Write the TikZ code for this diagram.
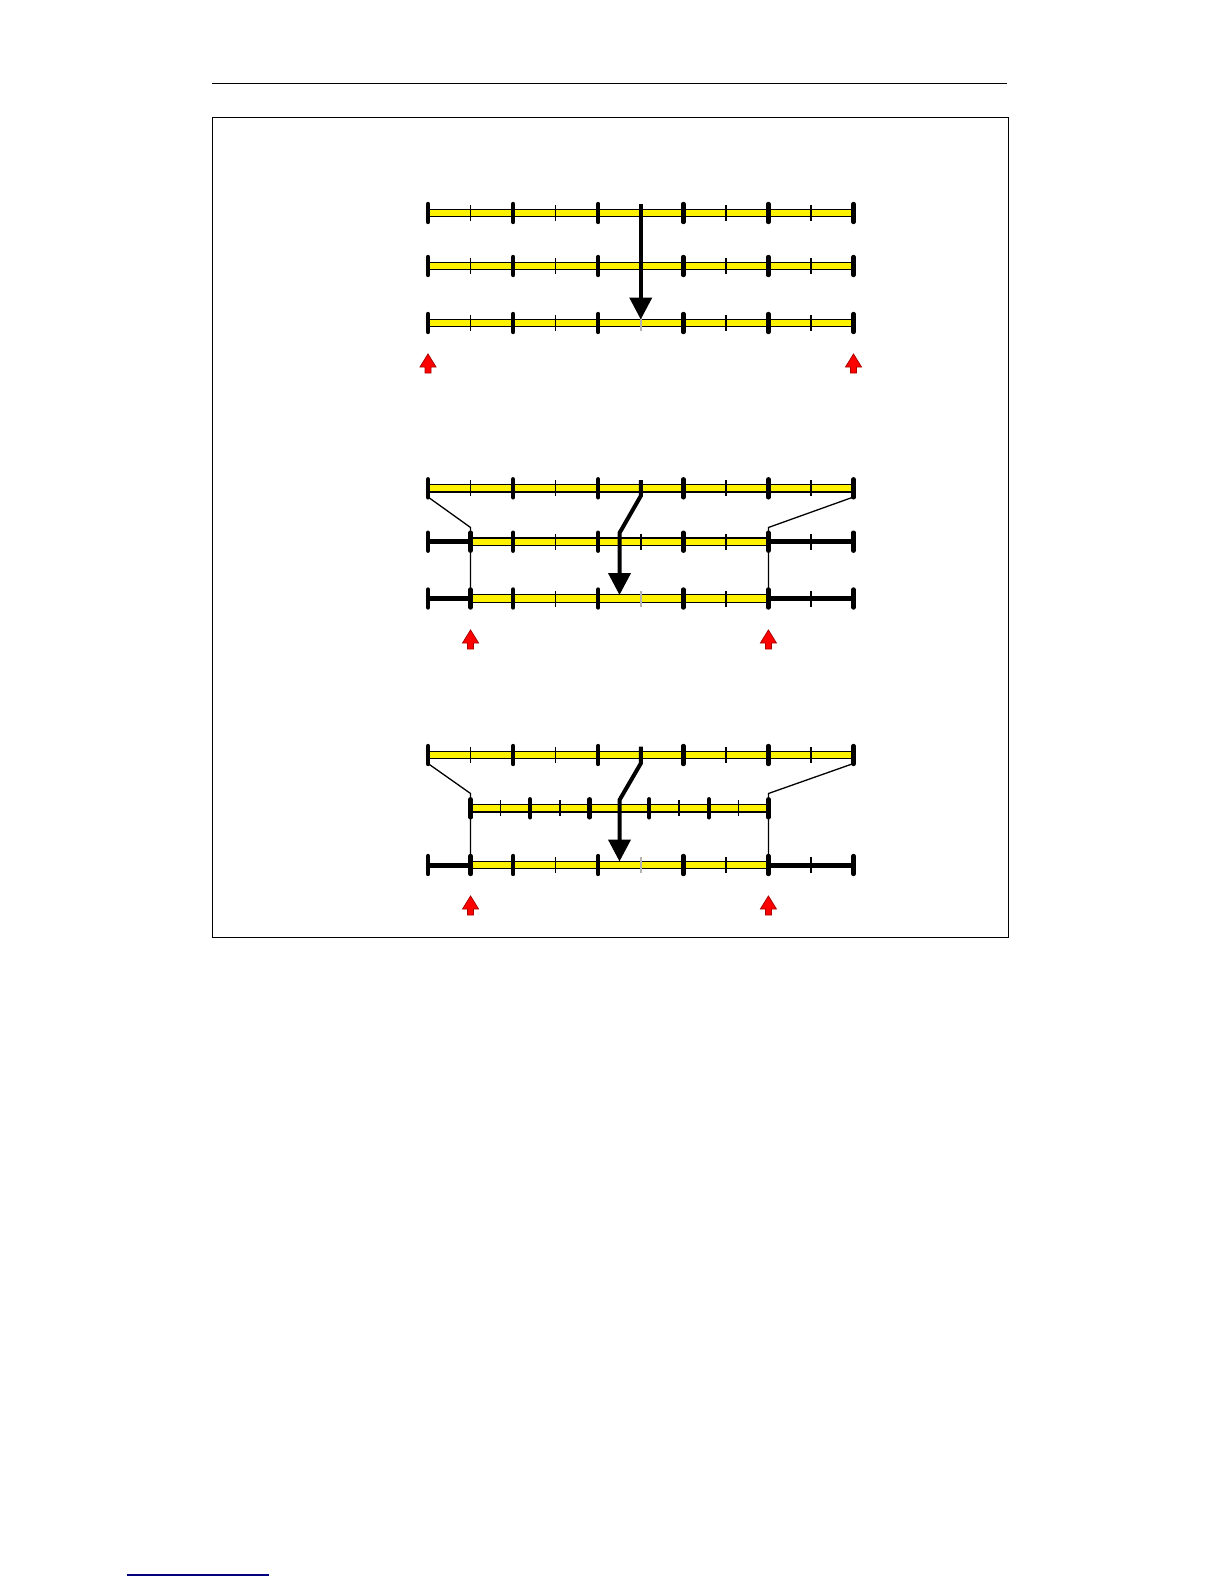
\documentclass[tikz,border=0pt]{standalone}
\usetikzlibrary{arrows.meta}
\definecolor{rulenavy}{RGB}{0,0,128}
\definecolor{arrowedge}{RGB}{170,0,0}
\newcommand\fullrow[2]{%
  \draw[ybar] (428,#1-3.7) rectangle (853.5,#1+3.7);
  \foreach \i in {0,...,5} \draw[major] (428+85.1*\i,#1-9) -- (428+85.1*\i,#1+9);
  \foreach \i in {0,1,3,4} \draw[minor] (470.55+85.1*\i,#1-8) -- (470.55+85.1*\i,#1+8);
  \draw[minor,draw=#2] (640.75,#1-8) -- (640.75,#1+8);
}
\newcommand\cutrow[2]{%
  \draw[kbar] (428,#1) -- (470.55,#1);
  \draw[kbar] (768.4,#1) -- (853.5,#1);
  \draw[ybar] (470.55,#1-3.7) rectangle (768.4,#1+3.7);
  \foreach \i in {0,...,5} \draw[major] (428+85.1*\i,#1-9) -- (428+85.1*\i,#1+9);
  \draw[major] (470.55,#1-9) -- (470.55,#1+9);
  \foreach \i in {1,3,4} \draw[minor] (470.55+85.1*\i,#1-8) -- (470.55+85.1*\i,#1+8);
  \draw[minor,draw=#2] (640.75,#1-8) -- (640.75,#1+8);
}
\newcommand\squeezerow[1]{%
  \draw[ybar] (470.55,#1-3.7) rectangle (768.4,#1+3.7);
  \foreach \i in {0,...,5} \draw[major] (470.55+59.57*\i,#1-9) -- (470.55+59.57*\i,#1+9);
  \foreach \i in {0,...,4} \draw[minor] (500.33+59.57*\i,#1-8) -- (500.33+59.57*\i,#1+8);
}
\newcommand\redup[2]{%
  \draw[redarrow] (#1,#2) -- (#1+8,#2+13) -- (#1+3,#2+13) -- (#1+3,#2+19)
    -- (#1-3,#2+19) -- (#1-3,#2+13) -- (#1-8,#2+13) -- cycle;
}
\begin{document}
\begin{tikzpicture}[x=0.5pt,y=-0.5pt,
  thinline/.style={line width=0.65pt},
  ybar/.style={fill=yellow,draw=black,line width=0.65pt},
  kbar/.style={line width=2.5pt},
  major/.style={line width=2.2pt,line cap=round},
  minor/.style={line width=0.75pt},
  bigarrow/.style={line width=2pt,-{Triangle[length=11pt,width=11pt]}},
  redarrow/.style={fill=red,draw=arrowedge,line width=0.4pt,line join=miter}]
\useasboundingbox (0,0) rectangle (1224,1584);
% page rules and frame
\draw[thinline] (212,83.3) -- (1007,83.3);
\draw[thinline] (212.3,117.3) rectangle (1008.7,937.3);
\draw[line width=0.65pt,draw=rulenavy] (127,1575) -- (269,1575);

% ---------- panel 1 ----------
\fullrow{213}{black}
\fullrow{266}{black}
\fullrow{323}{black!30}
\draw[bigarrow] (640.75,204) -- (640.75,319.5);
\redup{428}{354}
\redup{853.5}{354}

% ---------- panel 2 ----------
\draw[thinline] (428,497) -- (470.55,527.5) -- (470.55,598.5);
\draw[thinline] (853.5,497) -- (768.4,527.5) -- (768.4,598.5);
\fullrow{488.3}{black}
\cutrow{541.7}{black}
\cutrow{598.5}{black!30}
\draw[bigarrow] (640.75,480) -- (640.75,496) -- (619.5,533) -- (619.5,595);
\redup{470.55}{630}
\redup{768.4}{630}

% ---------- panel 3 ----------
\draw[thinline] (428,763.5) -- (470.55,793.5) -- (470.55,865);
\draw[thinline] (853.5,763.5) -- (768.4,793.5) -- (768.4,865);
\fullrow{755}{black}
\squeezerow{808.3}
\cutrow{865}{black!30}
\draw[bigarrow] (640.75,746.5) -- (640.75,763.5) -- (619.5,800) -- (619.5,861.5);
\redup{470.55}{896}
\redup{768.4}{896}
\end{tikzpicture}
\end{document}
